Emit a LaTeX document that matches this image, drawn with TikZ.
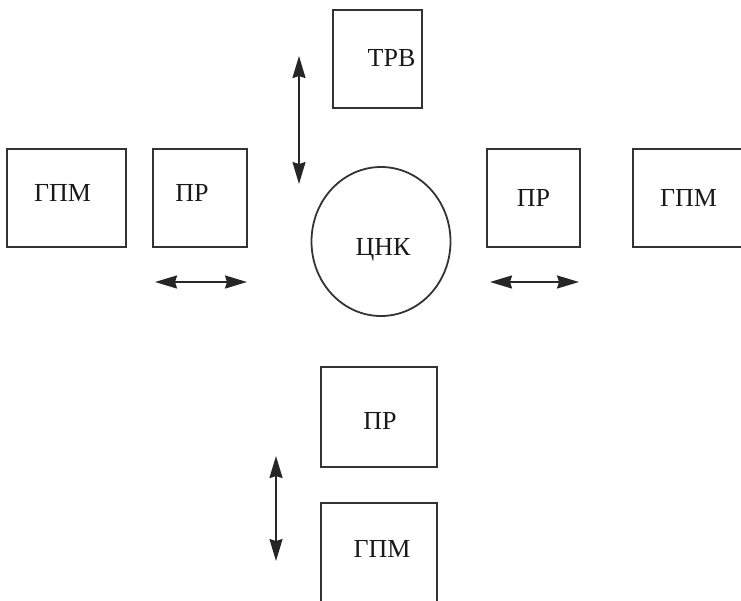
\documentclass[tikz,border=0pt]{standalone}
\usepackage{fontspec}
\setmainfont{Liberation Serif}
\usetikzlibrary{arrows.meta,shapes.geometric}
\begin{document}
\begin{tikzpicture}[x=1pt,y=-1pt,
  box/.style={draw=black!80, line width=2.4pt, rectangle, inner sep=0pt},
  lbl/.style={font=\fontsize{26}{30}\selectfont, text=black!90},
  dbl/.style={line width=2pt, draw=black!85, {Stealth[length=22pt,width=13pt,inset=2pt]}-{Stealth[length=22pt,width=13pt,inset=2pt]}}
]
\useasboundingbox (0,0) rectangle (741,600);
\clip (0,0) rectangle (741,600);
% boxes
\node[box, minimum width=119pt, minimum height=98pt,
  label={[lbl, xshift=-4pt, yshift=5pt]center:ГПМ}] (gpmL) at (66.5,198) {};
\node[box, minimum width=94pt, minimum height=98pt,
  label={[lbl, xshift=-8pt, yshift=5pt]center:ПР}] (prL) at (200,198) {};
\node[box, minimum width=89pt, minimum height=98pt,
  label={[lbl, xshift=14pt, yshift=1pt]center:ТРВ}] (trv) at (377.5,59) {};
\node[box, minimum width=93pt, minimum height=98pt,
  label={[lbl, xshift=0pt, yshift=0pt]center:ПР}] (prR) at (533.5,198) {};
\node[box, minimum width=127pt, minimum height=98pt,
  label={[lbl, xshift=-8pt, yshift=0pt]center:ГПМ}] (gpmR) at (696.5,198) {};
\node[draw=black!80, line width=1.8pt, ellipse, inner sep=0pt,
  minimum width=139pt, minimum height=149pt,
  label={[lbl, xshift=2pt, yshift=-8pt]center:ЦНК}] (cnk) at (381,241.5) {};
\node[box, minimum width=116pt, minimum height=100pt,
  label={[lbl, xshift=1pt, yshift=-4pt]center:ПР}] (prB) at (379,417) {};
\node[box, minimum width=116pt, minimum height=116pt,
  label={[lbl, xshift=3pt, yshift=12pt]center:ГПМ}] (gpmB) at (379,561) {};
% arrow ends
\coordinate (t1) at (299,56);
\coordinate (t2) at (299,184);
\coordinate (l1) at (155,282);
\coordinate (l2) at (247,282);
\coordinate (r1) at (490,282);
\coordinate (r2) at (579,282);
\coordinate (b1) at (276,456);
\coordinate (b2) at (276,561);
\draw[dbl] (t1) -- (t2);
\draw[dbl] (l1) -- (l2);
\draw[dbl] (r1) -- (r2);
\draw[dbl] (b1) -- (b2);
\end{tikzpicture}
\end{document}
